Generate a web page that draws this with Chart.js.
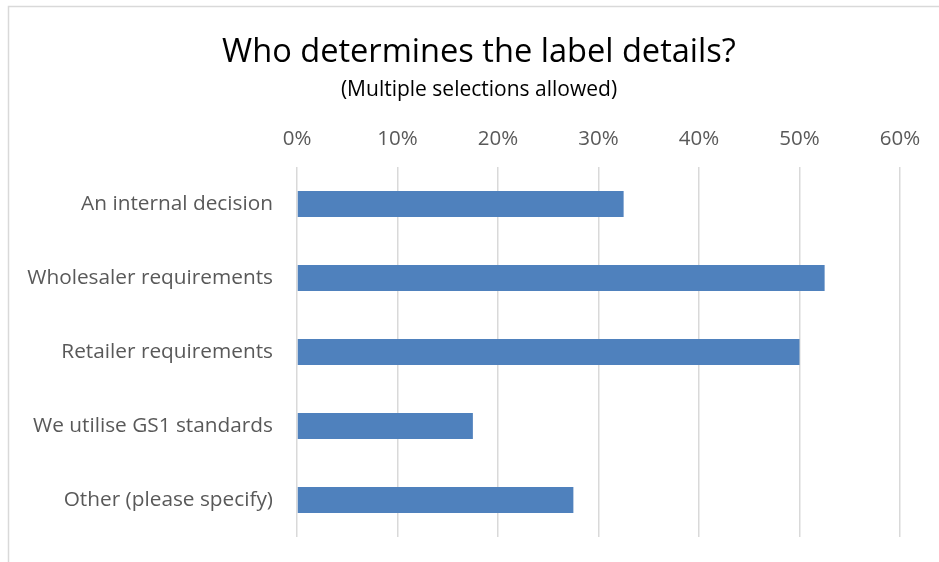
<!DOCTYPE html>
<html>
<head>
<meta charset="utf-8">
<script src="https://cdn.jsdelivr.net/npm/chart.js@4"></script>
<style>
  html, body { margin: 0; padding: 0; background: #fff; }
  #wrap { position: relative; width: 939px; height: 562px; }
</style>
</head>
<body>
<div id="wrap"><canvas id="labelChart" width="939" height="562"></canvas></div>
<script>
const categories = [
  'An internal decision',
  'Wholesaler requirements',
  'Retailer requirements',
  'We utilise GS1 standards',
  'Other (please specify)'
];
const shares = [32.5, 52.5, 50, 17.5, 27.5]; // percent of respondents
const tickMax = 60;
const tickStep = 10;

const titleText = 'Who determines the label details?';
const subtitleText = '(Multiple selections allowed)';

const FONT = "'Open Sans', sans-serif";

// light grey frame + heading centred on the whole chart box (like Excel)
const frame = {
  id: 'frame',
  beforeDraw(chart) {
    const c = chart.ctx;
    c.save();
    c.fillStyle = '#fff';
    c.fillRect(0, 0, chart.width, chart.height);
    c.strokeStyle = '#d9d9d9';
    c.lineWidth = 1.5;
    c.strokeRect(8.5, 6.5, chart.width + 20, chart.height + 20);
    c.restore();
  },
  afterDraw(chart) {
    const c = chart.ctx;
    c.save();
    c.fillStyle = '#000';
    c.textAlign = 'center';
    c.textBaseline = 'alphabetic';
    c.font = '32.6px ' + FONT;
    c.fillText(titleText, 479, 62);
    c.font = '21px ' + FONT;
    c.fillText(subtitleText, 479, 96);
    c.restore();
  }
};

new Chart(document.getElementById('labelChart').getContext('2d'), {
  type: 'bar',
  data: {
    labels: categories,
    datasets: [{
      data: shares,
      backgroundColor: '#4f81bd',
      barPercentage: 0.7,
      categoryPercentage: 0.5
    }]
  },
  options: {
    indexAxis: 'y',
    responsive: false,
    animation: false,
    layout: { padding: { left: 0, right: 39, top: 102, bottom: 25 } },
    plugins: {
      legend: { display: false },
      tooltip: { enabled: false }
    },
    scales: {
      x: {
        position: 'top',
        min: 0,
        max: tickMax,
        ticks: {
          stepSize: tickStep,
          color: '#595959',
          font: { family: FONT, size: 20.5 },
          padding: 16,
          callback: v => v + '%'
        },
        grid: { color: '#d9d9d9', lineWidth: 1.5, drawTicks: false },
        border: { display: false },
        afterFit(scale) {
          scale.height = 65;
          scale.paddingLeft = 0;
          scale.paddingRight = 0;
        }
      },
      y: {
        ticks: {
          color: '#595959',
          font: { family: FONT, size: 20.8 },
          padding: 16
        },
        grid: { display: false },
        border: { display: false },
        afterFit(scale) {
          scale.width = 297;
          scale.paddingTop = 0;
          scale.paddingBottom = 0;
        }
      }
    }
  },
  plugins: [frame]
});
</script>
</body>
</html>
